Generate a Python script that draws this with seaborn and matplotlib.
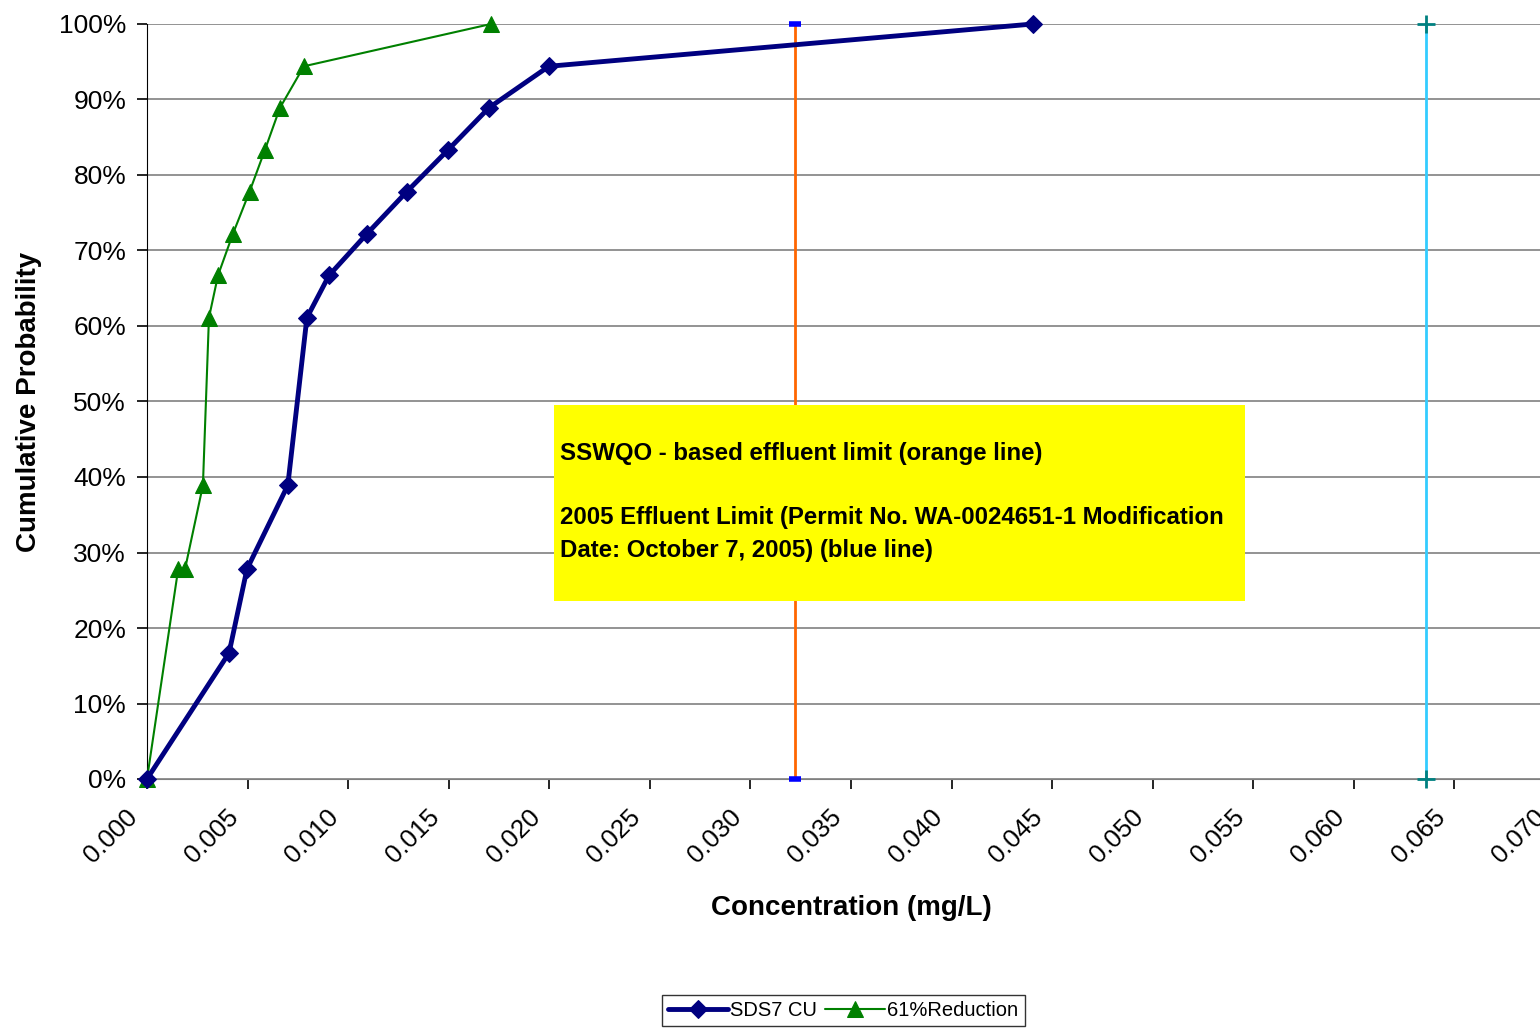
import numpy as np
import pandas as pd
import matplotlib
matplotlib.use("Agg")
import matplotlib.pyplot as plt
import matplotlib.transforms as mtransforms
from matplotlib.patches import Rectangle
import seaborn as sns

# Data
prob = [0.0, 0.167, 0.278, 0.389, 0.611, 0.667, 0.722, 0.778, 0.833, 0.889, 0.944, 1.0]
sds7_cu = [0.0, 0.00408, 0.00497, 0.0070, 0.00795, 0.00905, 0.01093, 0.01292,
           0.01496, 0.0170, 0.01998, 0.04404]

red_prob = [0.0, 0.278, 0.278, 0.389, 0.611, 0.667, 0.722, 0.778, 0.833, 0.889, 0.944, 1.0]
reduction = [0.0, 0.00155, 0.00189, 0.00278, 0.00308, 0.00353, 0.00427, 0.00510,
             0.00586, 0.00661, 0.0078, 0.0171]

sswqo_limit = [0.0322, 0.0322]
permit_limit = [0.0636, 0.0636]
limit_prob = [0.0, 1.0]

xticks = np.arange(0, 0.0701, 0.005)
yticks = np.arange(0, 1.01, 0.1)

sns.set_style("white")
plt.rcParams['font.family'] = ['Liberation Sans', 'DejaVu Sans']
plt.rcParams['text.color'] = 'black'
plt.rcParams['axes.labelcolor'] = 'black'
plt.rcParams['xtick.color'] = 'black'
plt.rcParams['ytick.color'] = 'black'

fig = plt.figure(figsize=(15.4, 10.28), dpi=100)
ax = fig.add_axes([147 / 1540, 1 - 779 / 1028, 1408 / 1540, 755 / 1028])

df_blue = pd.DataFrame({'x': sds7_cu, 'y': prob})
df_green = pd.DataFrame({'x': reduction, 'y': red_prob})

sns.lineplot(data=df_blue, x='x', y='y', sort=False, ax=ax, color='#000080',
             linewidth=3.5, marker='D', markersize=9, markeredgecolor='#000080',
             label='SDS7 CU', zorder=5, clip_on=False)
sns.lineplot(data=df_green, x='x', y='y', sort=False, ax=ax, color='#008000',
             linewidth=1.5, marker='^', markersize=12, markeredgecolor='#008000',
             label='61%Reduction', zorder=4, clip_on=False)

# limit lines
ax.plot(sswqo_limit, limit_prob, color='#ff6600', linewidth=2, zorder=3,
        marker='_', markersize=8, markeredgewidth=4, markeredgecolor='#0000ff',
        clip_on=False)
ax.plot(permit_limit, limit_prob, color='#33ccff', linewidth=2, zorder=3,
        marker='+', markersize=13, markeredgewidth=2, markeredgecolor='#008080',
        clip_on=False)

ax.set_xlim(0, 0.070)
ax.set_ylim(0, 1.0)
ax.set_xticks(xticks)
ax.set_xticklabels([])
# rotated x tick labels, placed like the Excel original
lab_off = mtransforms.ScaledTranslation(-13 / 100, -34 / 100, fig.dpi_scale_trans)
for v in xticks:
    ax.text(v, 0, f"{v:.3f}", transform=ax.get_xaxis_transform() + lab_off,
            rotation=45, ha='right', va='center', rotation_mode='anchor',
            fontsize=18.5, clip_on=False)
ax.set_yticks(yticks)
ax.set_yticklabels([f"{int(round(v * 100))}%" for v in yticks], fontsize=19)
ax.tick_params(axis='both', direction='out', length=7, width=1.2, color='black',
               bottom=True, left=True)
ax.tick_params(axis='y', pad=8)

for v in yticks:
    ax.axhline(v, color='#808080', linewidth=1.2, zorder=1)

ax.spines['top'].set_visible(False)
ax.spines['right'].set_visible(False)
ax.spines['left'].set_color('black')
ax.spines['bottom'].set_color('#808080')

ax.set_xlabel('Concentration (mg/L)', fontsize=20, fontweight='bold', labelpad=0)
ax.xaxis.set_label_coords(0.5, -(895 - 779) / 755)
ax.set_ylabel('Cumulative Probability', fontsize=20, fontweight='bold', labelpad=12)

# yellow note box
ax.add_patch(Rectangle((0.02023, 0.2358), 0.03434, 0.2596, facecolor='#ffff00',
                       edgecolor='none', zorder=6))
note_lines = [
    (0.4305, "SSWQO - based effluent limit (orange line)"),
    (0.3457, "2005 Effluent Limit (Permit No. WA-0024651-1 Modification"),
    (0.3033, "Date: October 7, 2005) (blue line)"),
]
for ny, txt in note_lines:
    ax.text(0.02053, ny, txt, fontsize=17.3, fontweight='bold', va='center',
            ha='left', zorder=7)

ax.legend(loc='upper center', bbox_to_anchor=(843 / 1540, 1 - 995 / 1028),
          bbox_transform=fig.transFigure, ncol=2, frameon=True, fancybox=False,
          edgecolor='black', fontsize=14.5, handlelength=3, columnspacing=0.4,
          handletextpad=0.1, borderpad=0.3, borderaxespad=0)

fig.savefig('out.png', dpi=100)
